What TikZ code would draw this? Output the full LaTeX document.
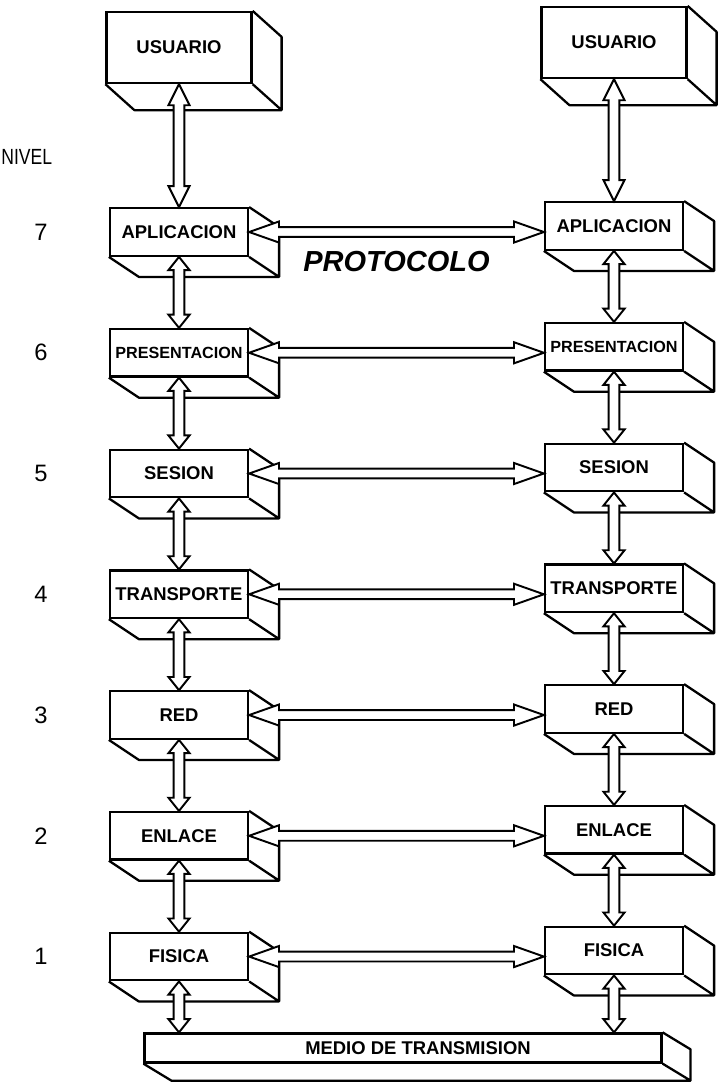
\documentclass[tikz,border=0pt]{standalone}
\usepackage{fontspec}
\setmainfont{Liberation Sans}
\usepackage{tikz}
\usetikzlibrary{positioning, calc}

% hollow double-headed arrow: from, to, head length, head half width, shaft half width
\newcommand{\fatlink}[5]{%
  \draw[link] (#1)
    -- ($(#1)!#3!(#2)!#4!90:(#2)$)
    -- ($(#1)!#3!(#2)!#5!90:(#2)$)
    -- ($(#2)!#3!(#1)!#5!-90:(#1)$)
    -- ($(#2)!#3!(#1)!#4!-90:(#1)$)
    -- (#2)
    -- ($(#2)!#3!(#1)!#4!90:(#1)$)
    -- ($(#2)!#3!(#1)!#5!90:(#1)$)
    -- ($(#1)!#3!(#2)!#5!-90:(#2)$)
    -- ($(#1)!#3!(#2)!#4!-90:(#2)$)
    -- cycle;}
\newcommand{\vlink}[2]{\fatlink{#1}{#2}{7.5pt}{6pt}{3.1pt}}
\newcommand{\hlink}[2]{\fatlink{#1}{#2}{17pt}{6pt}{2.8pt}}

\begin{document}
\begin{tikzpicture}[
    x=0.02cm, y=-0.02cm,
    node distance=1.42cm,
    layer/.style={rectangle, draw, line width=1.3pt, fill=white, minimum width=2.76cm, minimum height=0.95cm, inner sep=1pt, align=center, font=\bfseries\fontsize{10.5}{12}\selectfont},
    userbox/.style={layer, minimum width=2.9cm, minimum height=1.42cm},
    busbar/.style={layer, minimum width=10.34cm, minimum height=0.58cm},
    face/.style={line width=1.3pt, line join=round},
    link/.style={line width=1.1pt, fill=white, line join=miter},
    level/.style={font=\fontsize{13.5}{15}\selectfont}
]
    \useasboundingbox (0,0) rectangle (720,1083);

    % Left stack
    \node[layer] (apL) at (179,232) {APLICACION};
    \node[userbox, above=2.46cm of apL] (usrL) {USUARIO};
    \node[layer, below=of apL, font=\bfseries\fontsize{9.2}{11}\selectfont] (prL) {PRESENTACION};
    \node[layer, below=of prL] (seL) {SESION};
    \node[layer, below=of seL] (trL) {TRANSPORTE};
    \node[layer, below=of trL] (reL) {RED};
    \node[layer, below=of reL] (enL) {ENLACE};
    \node[layer, below=of enL] (fiL) {FISICA};

    % Right stack
    \node[layer] (apR) at (614,226) {APLICACION};
    \node[userbox, above=2.44cm of apR] (usrR) {USUARIO};
    \node[layer, below=of apR, font=\bfseries\fontsize{9.2}{11}\selectfont] (prR) {PRESENTACION};
    \node[layer, below=of prR] (seR) {SESION};
    \node[layer, below=of seR] (trR) {TRANSPORTE};
    \node[layer, below=of trR] (reR) {RED};
    \node[layer, below=of reR] (enR) {ENLACE};
    \node[layer, below=of enR] (fiR) {FISICA};

    % Medium
    \node[busbar] (medio) at (403,1048) {\hspace{0.6cm}MEDIO DE TRANSMISION};
    \coordinate (baseL) at (fiL.south |- medio.north);
    \coordinate (baseR) at (fiR.south |- medio.north);

    % Depth faces
    \foreach \n in {apL, prL, seL, trL, reL, enL, fiL, apR, prR, seR, trR, reR, enR, fiR}
        \draw[face] (\n.north east) -- ++(30,20) |- ($(\n.south west)+(30,20)$) -- (\n.south west)
                    (\n.south east) -- ++(30,20);
    \foreach \n in {usrL, usrR}
        \draw[face] (\n.north east) -- ++(29,26) |- ($(\n.south west)+(29,26)$) -- (\n.south west)
                    (\n.south east) -- ++(29,26);
    \draw[face] (medio.north east) -- ++(28,17) |- ($(medio.south west)+(28,17)$) -- (medio.south west)
                (medio.south east) -- ++(28,17);

    % Level labels
    \node[anchor=west, inner sep=0pt] (nivel) at (1,157) {\scalebox{0.8}[1]{\fontsize{12.5}{14}\selectfont NIVEL}};
    \node[level, left=1.1cm of apL] (lv7) {7};
    \node[level, left=1.1cm of prL] (lv6) {6};
    \node[level, left=1.1cm of seL] (lv5) {5};
    \node[level, left=1.1cm of trL] (lv4) {4};
    \node[level, left=1.1cm of reL] (lv3) {3};
    \node[level, left=1.1cm of enL] (lv2) {2};
    \node[level, left=1.1cm of fiL] (lv1) {1};

    \node[font=\bfseries\itshape\fontsize{16.5}{18}\selectfont] (proto)
        at ($(apL.east)!0.5!(apR.west)+(0,33)$) {PROTOCOLO};

    % Vertical links
    \fatlink{usrL.south}{apL.north}{12pt}{6pt}{3.1pt}
    \fatlink{usrR.south}{apR.north}{12pt}{6pt}{3.1pt}
    \vlink{apL.south}{prL.north}
    \vlink{prL.south}{seL.north}
    \vlink{seL.south}{trL.north}
    \vlink{trL.south}{reL.north}
    \vlink{reL.south}{enL.north}
    \vlink{enL.south}{fiL.north}
    \vlink{fiL.south}{baseL}
    \vlink{apR.south}{prR.north}
    \vlink{prR.south}{seR.north}
    \vlink{seR.south}{trR.north}
    \vlink{trR.south}{reR.north}
    \vlink{reR.south}{enR.north}
    \vlink{enR.south}{fiR.north}
    \vlink{fiR.south}{baseR}

    % Peer protocol links
    \hlink{apL.east}{apR.west |- apL.east}
    \hlink{prL.east}{prR.west |- prL.east}
    \hlink{seL.east}{seR.west |- seL.east}
    \hlink{trL.east}{trR.west |- trL.east}
    \hlink{reL.east}{reR.west |- reL.east}
    \hlink{enL.east}{enR.west |- enL.east}
    \hlink{fiL.east}{fiR.west |- fiL.east}
\end{tikzpicture}
\end{document}
